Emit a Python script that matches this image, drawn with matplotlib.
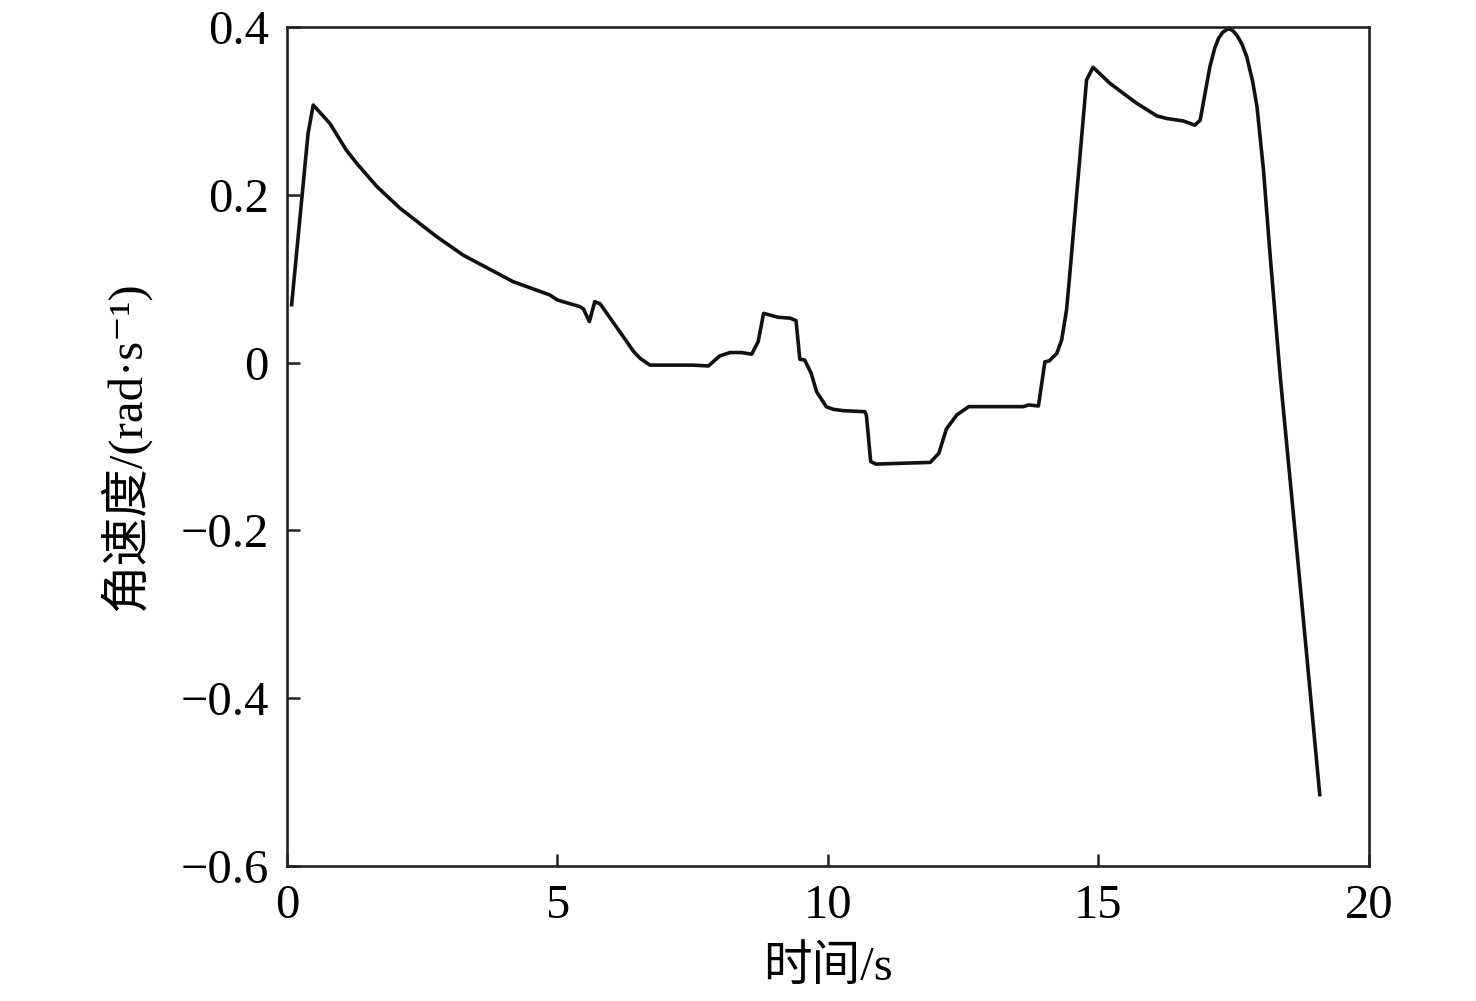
import matplotlib
matplotlib.use("Agg")
import matplotlib.pyplot as plt

t = [0.087, 0.39, 0.486, 0.795, 1.10, 1.29, 1.66, 2.09, 2.77, 3.26, 4.18, 4.86, 5.0, 5.42, 5.48,
     5.59, 5.69, 5.79, 6.28, 6.41, 6.53, 6.71, 7.51, 7.79, 8.00, 8.19, 8.40, 8.59, 8.71, 8.81,
     9.08, 9.30, 9.41, 9.48, 9.57, 9.69, 9.79, 9.97, 10.10, 10.28, 10.68, 10.71, 10.79, 10.89,
     11.34, 11.89, 12.05, 12.19, 12.38, 12.60, 13.61, 13.71, 13.89, 14.01, 14.09, 14.23, 14.32,
     14.41, 14.46, 14.78, 14.90, 15.21, 15.52, 15.71, 16.08, 16.26, 16.57, 16.78, 16.88, 17.06,
     17.15, 17.22, 17.30, 17.40, 17.48, 17.56, 17.65, 17.74, 17.85, 17.93, 18.05, 18.17, 18.36,
     18.72, 19.09]
omega = [0.069, 0.273, 0.307, 0.285, 0.253, 0.2375, 0.21, 0.184, 0.150, 0.128, 0.0965, 0.0806,
         0.0746, 0.0666, 0.0640, 0.049, 0.0726, 0.070, 0.025, 0.013, 0.005, -0.003, -0.003, -0.004,
         0.008, 0.012, 0.012, 0.010, 0.025, 0.0587, 0.054, 0.053, 0.050, 0.004, 0.003, -0.0128,
         -0.0347, -0.0526, -0.0557, -0.0573, -0.0585, -0.0625, -0.118, -0.121, -0.120, -0.119,
         -0.108, -0.079, -0.0625, -0.0525, -0.0525, -0.0505, -0.0517, 0.001, 0.002, 0.011, 0.027,
         0.063, 0.098, 0.337, 0.352, 0.333, 0.318, 0.309, 0.294, 0.291, 0.288, 0.283, 0.289, 0.353,
         0.375, 0.3866, 0.394, 0.398, 0.396, 0.390, 0.380, 0.3646, 0.335, 0.305, 0.2295, 0.130,
         -0.017, -0.260, -0.515]

xticks = [0, 5, 10, 15, 20]
yticks = [-0.6, -0.4, -0.2, 0, 0.2, 0.4]
ytick_labels = ["\u22120.6", "\u22120.4", "\u22120.2", "0", "0.2", "0.4"]

fam = ["Liberation Serif", "Noto Sans CJK SC", "DejaVu Serif"]
plt.rcParams["font.family"] = fam

fig = plt.figure(figsize=(14.76, 10.01), dpi=100)
ax = fig.add_axes([0.1944, 0.1349, 0.9275 - 0.1944, 0.973 - 0.1349])
ax.plot(t, omega, color="#111111", lw=2.6, solid_joinstyle="round")
ax.set_xlim(0, 20)
ax.set_ylim(-0.6, 0.4)
ax.set_xticks(xticks)
ax.set_xticklabels([str(v) for v in xticks])
ax.set_yticks(yticks)
ax.set_yticklabels(ytick_labels)
ax.tick_params(direction="in", length=9, width=1.8, labelsize=35, pad=13, color="#222222")
for s in ax.spines.values():
    s.set_linewidth(1.9)
    s.set_color("#222222")
ax.set_xlabel("时间/s", fontsize=35, labelpad=12)
ax.set_ylabel("角速度/(rad·s\u207b\u00b9)", fontsize=35, labelpad=22)
fig.savefig("out.png", dpi=100)
